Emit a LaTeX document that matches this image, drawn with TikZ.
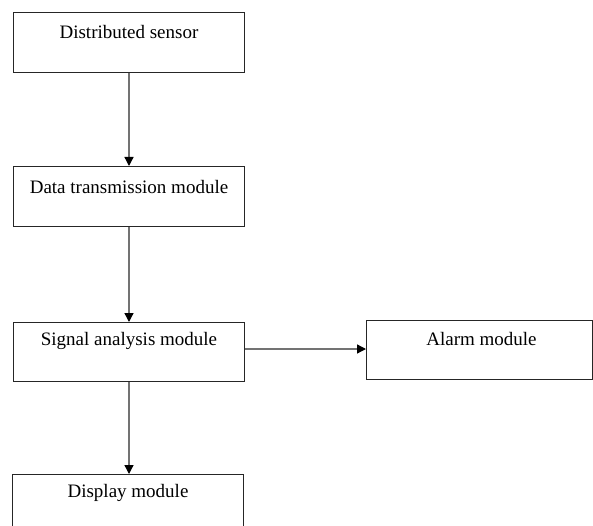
\documentclass[tikz,border=0pt]{standalone}
\usepackage{fontspec}
\setmainfont{Liberation Serif}
\usetikzlibrary{arrows.meta,calc}
\begin{document}
\begin{tikzpicture}[x=1pt,y=-1pt,
  box/.style={draw=black!85,line width=1pt,rectangle,inner sep=0pt,anchor=north west},
  lbl/.style={font=\fontsize{19}{22}\selectfont,text=black,inner sep=0pt,anchor=center},
  flow/.style={draw=black!55,line width=1.3pt,-{Triangle[length=9pt,width=9pt,fill=black,color=black]}}]
  \useasboundingbox (0,0) rectangle (593,526);
  \clip (0,0) rectangle (593,526);
  % module boxes
  \node[box,minimum width=231pt,minimum height=60pt] (sensor) at (13,12) {};
  \node[box,minimum width=231pt,minimum height=60pt] (trans)  at (13,166) {};
  \node[box,minimum width=231pt,minimum height=59pt] (signal) at (13,322) {};
  \node[box,minimum width=226pt,minimum height=59pt] (alarm)  at (366,320) {};
  \node[box,minimum width=231pt,minimum height=80pt] (disp)   at (12,474) {};
  % box captions
  \node[lbl] (tsensor) at ($(sensor.north)+(0,20)$) {Distributed sensor};
  \node[lbl] (ttrans)  at ($(trans.north)+(0,21)$)  {Data transmission module};
  \node[lbl] (tsignal) at ($(signal.north)+(0,19)$) {Signal analysis module};
  \node[lbl] (talarm)  at ($(alarm.north)+(2,19)$)  {Alarm module};
  \node[lbl] (tdisp)   at ($(disp.north)+(0,19)$)   {Display module};
  % connectors
  \draw[flow] (sensor.south) -- (trans.north);
  \draw[flow] (trans.south) -- (signal.north);
  \draw[flow] (signal.south) -- (signal.south |- disp.north);
  \draw[flow] (signal.east |- 0,349) -- (alarm.west |- 0,349);
\end{tikzpicture}
\end{document}
